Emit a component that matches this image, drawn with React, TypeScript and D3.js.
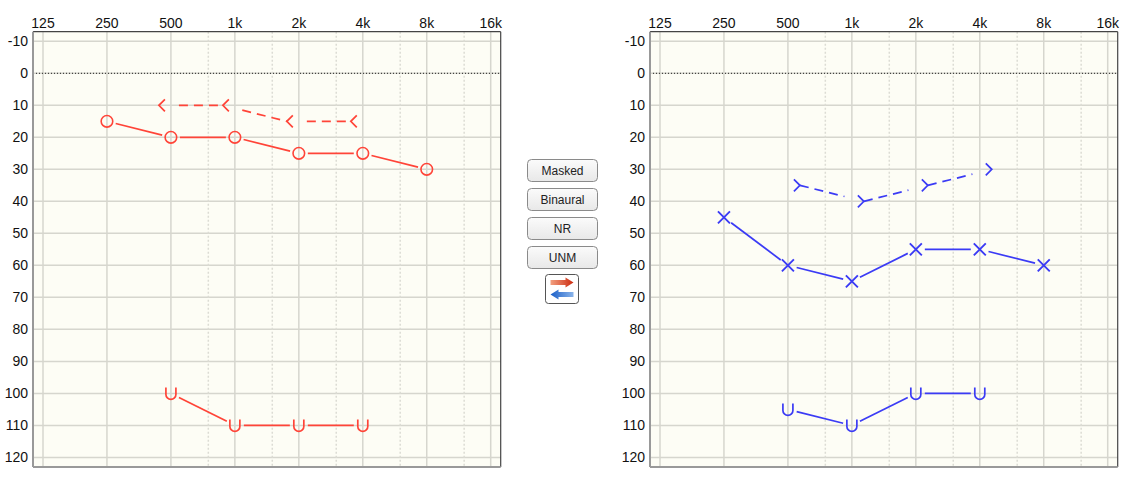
import { scaleLinear, scaleLog, line as d3Line } from 'd3'

// two-ear audiogram — left ear (red) and right ear (blue), with a small button column between.

const FREQ_TICKS = [125, 250, 500, 1000, 2000, 4000, 8000, 16000]
const FREQ_LABELS = ['125', '250', '500', '1k', '2k', '4k', '8k', '16k']
const MID_FREQS = [750, 1500, 3000, 6000, 12000]
const DB_TICKS = [-10, 0, 10, 20, 30, 40, 50, 60, 70, 80, 90, 100, 110, 120]

const LEFT_AIR_FREQS = [250, 500, 1000, 2000, 4000, 8000]
const LEFT_AIR_DB = [15, 20, 20, 25, 25, 30]
const LEFT_BONE_FREQS = [500, 1000, 2000, 4000]
const LEFT_BONE_DB = [10, 10, 15, 15]
const LEFT_UCL_FREQS = [500, 1000, 2000, 4000]
const LEFT_UCL_DB = [100, 110, 110, 110]

const RIGHT_AIR_FREQS = [250, 500, 1000, 2000, 4000, 8000]
const RIGHT_AIR_DB = [45, 60, 65, 55, 55, 60]
const RIGHT_BONE_FREQS = [500, 1000, 2000, 4000]
const RIGHT_BONE_DB = [35, 40, 35, 30]
const RIGHT_UCL_FREQS = [500, 1000, 2000, 4000]
const RIGHT_UCL_DB = [105, 110, 100, 100]

const BUTTONS = ['Masked', 'Binaural', 'NR', 'UNM']

const RED = '#ff4438'
const BLUE = '#3b3bf5'
const GRID = '#d6d6ce'
const FONT = '"Liberation Sans", Arial, sans-serif'

const PLOT = { left: 33, right: 500.7, top: 31.7, bottom: 467 }
const OCT_PAD = 10 / 64

type Pt = [number, number]

// shorten a segment by a fixed distance at each end
function trim(a: Pt, b: Pt, s: number, e: number): [Pt, Pt] {
  const dx = b[0] - a[0]
  const dy = b[1] - a[1]
  const len = Math.hypot(dx, dy) || 1
  const ux = dx / len
  const uy = dy / len
  return [
    [a[0] + ux * s, a[1] + uy * s],
    [b[0] - ux * e, b[1] - uy * e],
  ]
}

const lineGen = d3Line<Pt>()

interface PanelProps {
  offsetX: number
  color: string
  ear: 'left' | 'right'
  airFreqs: number[]
  airDb: number[]
  boneFreqs: number[]
  boneDb: number[]
  uclFreqs: number[]
  uclDb: number[]
}

function Panel({ offsetX, color, ear, airFreqs, airDb, boneFreqs, boneDb, uclFreqs, uclDb }: PanelProps) {
  const x = scaleLog()
    .domain([125 * Math.pow(2, -OCT_PAD), 16000 * Math.pow(2, OCT_PAD)])
    .range([PLOT.left + offsetX, PLOT.right + offsetX])
  const y = scaleLinear().domain([-13, 123]).range([PLOT.top, PLOT.bottom])
  const x0 = PLOT.left + offsetX
  const x1 = PLOT.right + offsetX

  const air: Pt[] = airFreqs.map((f, i) => [x(f), y(airDb[i])])
  const ucl: Pt[] = uclFreqs.map((f, i) => [x(f), y(uclDb[i])])
  // bone symbols sit beside the frequency line; the point used is the symbol's vertex
  const boneDir = ear === 'left' ? -1 : 1
  const bone: Pt[] = boneFreqs.map((f, i) => [x(f) + boneDir * 12, y(boneDb[i])])

  const segs = (pts: Pt[], s: number, e: number) =>
    pts.slice(1).map((p, i) => trim(pts[i], p, s, e))

  return (
    <g>
      <rect x={x0} y={PLOT.top} width={x1 - x0} height={PLOT.bottom - PLOT.top} fill="#fdfdf5" />
      {DB_TICKS.map((d) => (
        <line key={d} x1={x0} x2={x1} y1={y(d)} y2={y(d)} stroke={GRID} strokeWidth={1.5} />
      ))}
      {MID_FREQS.map((f) => (
        <line key={f} x1={x(f)} x2={x(f)} y1={PLOT.top} y2={PLOT.bottom} stroke="#dcdcd4" strokeWidth={1.5} strokeDasharray="2,2" />
      ))}
      {FREQ_TICKS.map((f) => (
        <line key={f} x1={x(f)} x2={x(f)} y1={PLOT.top} y2={PLOT.bottom} stroke={GRID} strokeWidth={1.5} />
      ))}
      <line x1={x0} x2={x1} y1={y(0)} y2={y(0)} stroke="#222" strokeWidth={1} strokeDasharray="1,2" />

      {/* frame: dark top/right, lighter left/bottom */}
      <line x1={x0} x2={x1} y1={PLOT.top} y2={PLOT.top} stroke="#444" strokeWidth={1.2} />
      <line x1={x1} x2={x1} y1={PLOT.top} y2={PLOT.bottom} stroke="#444" strokeWidth={1.2} />
      <line x1={x0} x2={x0} y1={PLOT.top} y2={PLOT.bottom} stroke="#999" strokeWidth={2} />
      <line x1={x0} x2={x1} y1={PLOT.bottom} y2={PLOT.bottom} stroke="#999" strokeWidth={2} />

      {FREQ_TICKS.map((f, i) => (
        <text key={f} x={x(f)} y={28} textAnchor="middle" fontSize={14} fontFamily={FONT} fill="#111">
          {FREQ_LABELS[i]}
        </text>
      ))}
      {DB_TICKS.map((d) => (
        <text key={d} x={x0 - 5} y={y(d) + 5} textAnchor="end" fontSize={14} fontFamily={FONT} fill="#111">
          {d}
        </text>
      ))}

      {/* air conduction */}
      {segs(air, 9, 9).map((s, i) => (
        <path key={`a${i}`} d={lineGen(s) ?? ''} stroke={color} strokeWidth={1.7} fill="none" />
      ))}
      {air.map(([px, py], i) =>
        ear === 'left' ? (
          <circle key={i} cx={px} cy={py} r={5.8} fill="none" stroke={color} strokeWidth={1.6} />
        ) : (
          <path key={i} d={`M${px - 6},${py - 6}L${px + 6},${py + 6}M${px - 6},${py + 6}L${px + 6},${py - 6}`} stroke={color} strokeWidth={1.9} fill="none" />
        ),
      )}

      {/* bone conduction, dashed */}
      {segs(bone, ear === 'left' ? 20 : 0, ear === 'left' ? 0 : 20).map((s, i) => (
        <path key={`b${i}`} d={lineGen(s) ?? ''} stroke={color} strokeWidth={1.7} fill="none" strokeDasharray="9,6" />
      ))}
      {bone.map(([px, py], i) => {
        const ax = px - boneDir * 6
        return (
          <path key={i} d={`M${ax},${py - 6}L${px},${py}L${ax},${py + 6}`} stroke={color} strokeWidth={1.7} fill="none" />
        )
      })}

      {/* uncomfortable levels */}
      {segs(ucl, 9, 9).map((s, i) => (
        <path key={`u${i}`} d={lineGen(s) ?? ''} stroke={color} strokeWidth={1.7} fill="none" />
      ))}
      {ucl.map(([px, py], i) => (
        <path key={i} d={`M${px - 5},${py - 6}V${py + 1}A5,5 0 0 0 ${px + 5},${py + 1}V${py - 6}`} stroke={color} strokeWidth={1.7} fill="none" />
      ))}
    </g>
  )
}

export default function App() {
  return (
    <svg width={1135} height={479} style={{ position: 'absolute', left: 0, top: 0, background: '#fff' }}>
      <defs>
        <linearGradient id="btn" x1="0" y1="0" x2="0" y2="1">
          <stop offset="0" stopColor="#fbfbfb" />
          <stop offset="1" stopColor="#e8e8e8" />
        </linearGradient>
        <linearGradient id="redArrow" x1="0" y1="0" x2="1" y2="0">
          <stop offset="0" stopColor="#f2a080" />
          <stop offset="1" stopColor="#cc2a10" />
        </linearGradient>
        <linearGradient id="blueArrow" x1="1" y1="0" x2="0" y2="0">
          <stop offset="0" stopColor="#8ab4ea" />
          <stop offset="1" stopColor="#1a5fc8" />
        </linearGradient>
      </defs>

      <Panel
        offsetX={0}
        color={RED}
        ear="left"
        airFreqs={LEFT_AIR_FREQS}
        airDb={LEFT_AIR_DB}
        boneFreqs={LEFT_BONE_FREQS}
        boneDb={LEFT_BONE_DB}
        uclFreqs={LEFT_UCL_FREQS}
        uclDb={LEFT_UCL_DB}
      />
      <Panel
        offsetX={617}
        color={BLUE}
        ear="right"
        airFreqs={RIGHT_AIR_FREQS}
        airDb={RIGHT_AIR_DB}
        boneFreqs={RIGHT_BONE_FREQS}
        boneDb={RIGHT_BONE_DB}
        uclFreqs={RIGHT_UCL_FREQS}
        uclDb={RIGHT_UCL_DB}
      />

      {BUTTONS.map((b, i) => (
        <g key={b} transform={`translate(527.5, ${159.5 + i * 29})`}>
          <rect width={70} height={22} rx={4} fill="url(#btn)" stroke="#8a8a8a" />
          <text x={35} y={15} textAnchor="middle" fontSize={12} fontFamily={FONT} fill="#222">
            {b}
          </text>
        </g>
      ))}

      <g transform="translate(545.5, 274.5)">
        <rect width={33} height={29} rx={3} fill="#fff" stroke="#555" />
        <path d="M5,5.5H20V3L28,8L20,13V10.5H5Z" fill="url(#redArrow)" />
        <path d="M28,17.5H13V15L5,20L13,25V22.5H28Z" fill="url(#blueArrow)" />
      </g>
    </svg>
  )
}
